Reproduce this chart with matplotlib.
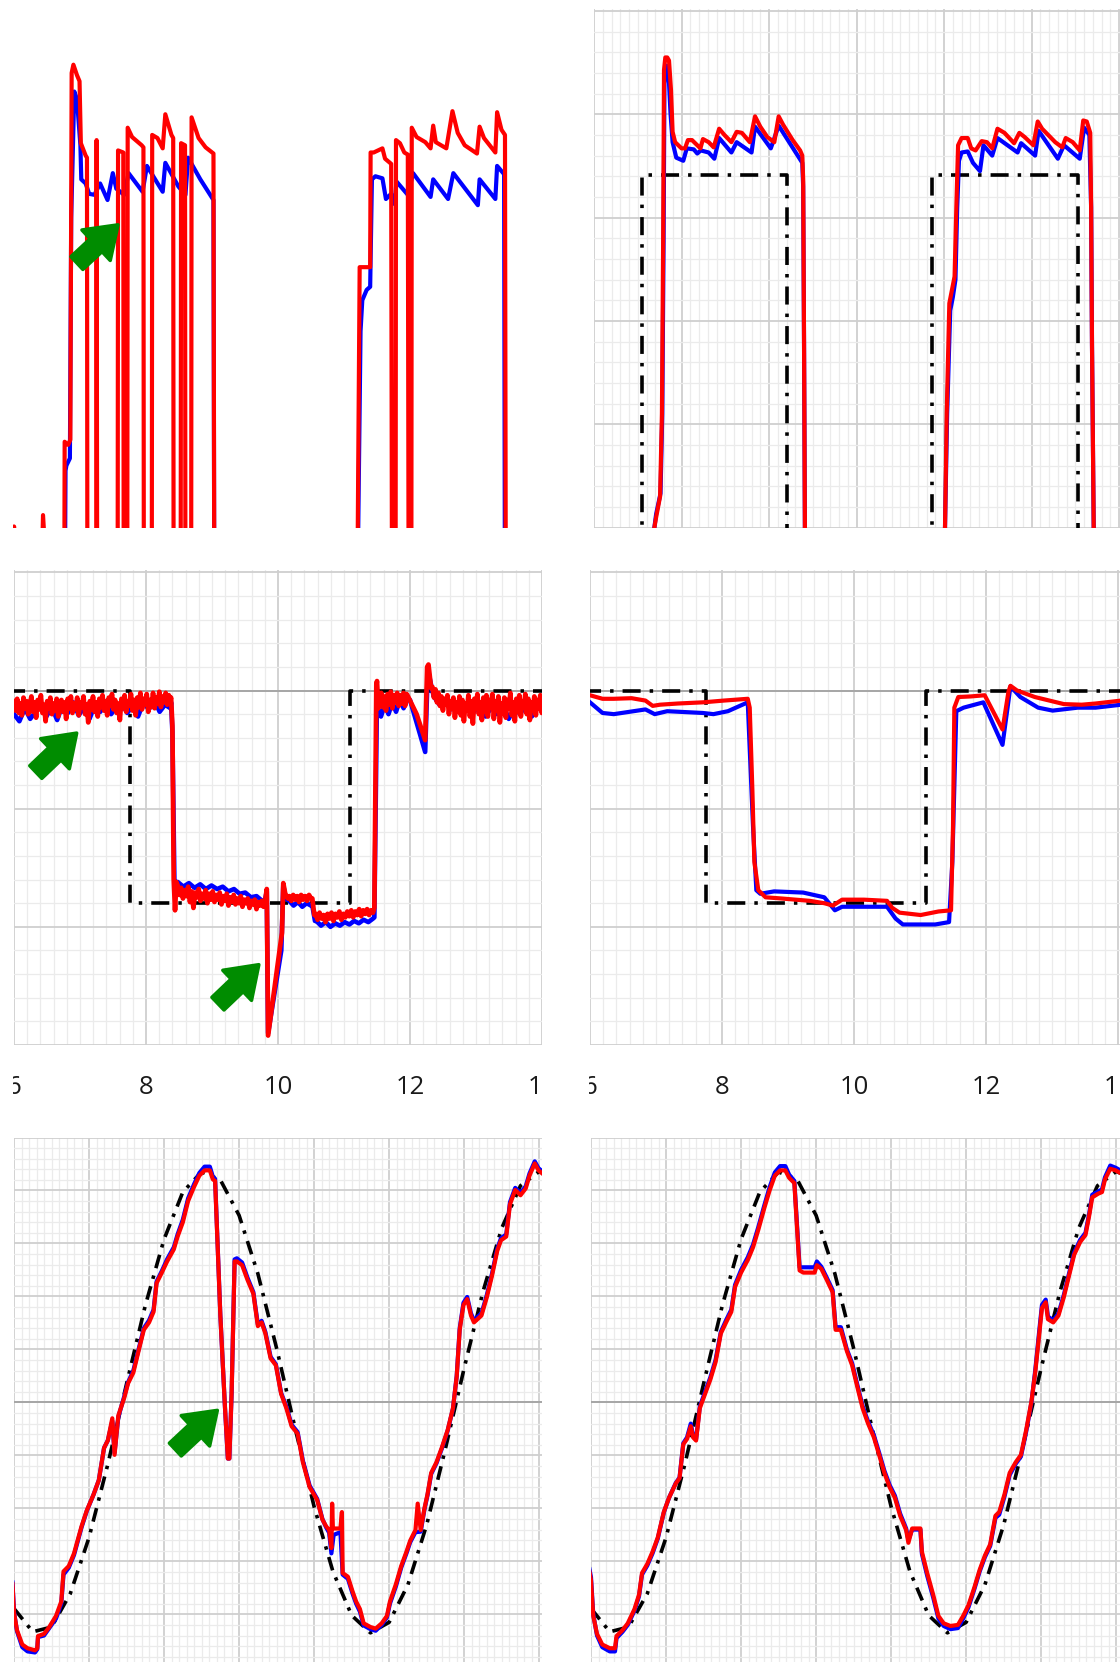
import numpy as np
import matplotlib
matplotlib.use("Agg")
import matplotlib.pyplot as plt
from matplotlib.patches import FancyArrowPatch
from matplotlib.ticker import MultipleLocator
from matplotlib import transforms
from matplotlib.transforms import Bbox, TransformedBbox

# ---------------- data ----------------
LOW = -1.0  # off-scale low (clipped by the panel)

# top row (pulse tests)
A_red = [(0.00,LOW),(0.012,0.01),(0.03,LOW),(0.31,LOW),(0.343,0.12),(0.42,LOW),
         (0.585,LOW),(0.59,0.83),(0.63,0.80),(0.655,0.85),(0.67,4.40),(0.69,4.48),(0.73,4.38),(0.76,4.32),
         (0.775,3.72),(0.83,3.60),(0.845,3.58),(0.85,LOW),
         (0.95,LOW),(0.955,3.75),(0.962,LOW),
         (1.195,LOW),(1.20,3.65),(1.26,3.63),(1.265,LOW),
         (1.305,LOW),(1.31,3.87),(1.36,3.78),(1.47,3.70),(1.49,3.68),(1.495,LOW),
         (1.585,LOW),(1.59,3.80),(1.65,3.77),(1.71,3.67),(1.74,4.00),(1.81,3.80),(1.83,3.77),(1.835,LOW),
         (1.915,LOW),(1.92,3.72),(1.965,3.70),(1.97,LOW),
         (2.035,LOW),(2.04,3.97),(2.12,3.77),(2.20,3.68),(2.29,3.62),(2.30,LOW),
         (3.93,LOW),(3.96,2.52),(4.08,2.52),(4.085,3.63),(4.12,3.63),(4.22,3.67),(4.25,3.57),(4.32,3.52),(4.33,LOW),
         (4.37,LOW),(4.375,3.75),(4.42,3.72),(4.47,3.63),(4.51,3.61),(4.52,LOW),
         (4.55,LOW),(4.555,3.87),(4.61,3.78),(4.71,3.73),(4.77,3.67),(4.80,3.89),(4.83,3.73),(4.95,3.67),
         (5.02,4.03),(5.08,3.82),(5.16,3.70),(5.30,3.62),(5.33,3.88),(5.38,3.77),(5.51,3.63),(5.53,4.02),
         (5.58,3.85),(5.62,3.80),(5.63,LOW),(6.1,LOW)]
A_blue = [(0.0,LOW),(0.59,LOW),(0.60,0.55),(0.61,0.60),(0.65,0.67),(0.665,3.0),(0.70,4.22),(0.73,4.15),
          (0.77,3.70),(0.78,3.37),(0.83,3.33),(0.87,3.23),(0.93,3.22),(0.995,3.33),(1.08,3.17),(1.14,3.43),
          (1.18,3.28),(1.27,3.22),(1.32,3.43),(1.48,3.25),(1.53,3.50),(1.71,3.25),(1.74,3.53),(1.89,3.30),
          (1.97,3.22),(2.00,3.58),(2.14,3.37),(2.29,3.17),(2.30,LOW),
          (3.93,LOW),(3.97,1.9),(3.99,2.20),(4.04,2.30),(4.08,2.33),(4.10,3.37),(4.14,3.40),(4.22,3.38),
          (4.26,3.18),(4.32,3.23),(4.36,3.13),(4.38,3.35),(4.51,3.22),(4.57,3.43),(4.77,3.20),(4.80,3.37),
          (4.97,3.18),(5.03,3.43),(5.31,3.12),(5.33,3.37),(5.51,3.18),(5.53,3.50),(5.61,3.42),(5.62,LOW),(6.1,LOW)]
A_arrow = [((0.73, 2.56), (1.20, 2.93))]

B_ref1 = [(0.55,LOW),(0.55,3.41),(2.20,3.41),(2.20,LOW)]
B_ref2 = [(3.86,LOW),(3.86,3.41),(5.53,3.41),(5.53,LOW)]
B_red = [(0.0,LOW),(0.67,LOW),(0.69,0.0),(0.71,0.10),(0.755,0.30),(0.776,1.10),(0.79,2.77),(0.80,4.43),
         (0.815,4.55),(0.837,4.55),(0.857,4.52),(0.88,4.23),(0.898,3.83),(0.927,3.73),(1.00,3.67),(1.04,3.67),
         (1.073,3.75),(1.12,3.75),(1.18,3.70),(1.216,3.67),(1.245,3.76),(1.31,3.73),(1.367,3.68),(1.43,3.86),
         (1.49,3.80),(1.57,3.73),(1.63,3.83),(1.69,3.82),(1.78,3.73),(1.84,3.98),(1.90,3.88),(1.98,3.78),
         (2.06,3.73),(2.11,3.98),(2.16,3.90),(2.27,3.75),(2.355,3.65),(2.38,3.60),(2.39,3.37),(2.40,1.77),
         (2.41,-0.03),(2.42,LOW),
         (3.98,LOW),(4.01,-0.03),(4.03,1.10),(4.06,2.17),(4.09,2.30),(4.12,2.43),(4.14,3.10),(4.16,3.70),
         (4.20,3.77),(4.27,3.77),(4.31,3.67),(4.36,3.65),(4.43,3.74),(4.49,3.73),(4.55,3.67),(4.61,3.86),
         (4.69,3.82),(4.80,3.72),(4.86,3.82),(4.92,3.78),(5.02,3.70),(5.07,3.93),(5.12,3.86),(5.27,3.73),
         (5.35,3.68),(5.39,3.77),(5.47,3.73),(5.55,3.65),(5.59,3.94),(5.63,3.93),(5.67,3.82),(5.68,3.10),
         (5.69,1.77),(5.71,-0.03),(5.72,LOW),(6.1,LOW)]
B_blue = [(0.0,LOW),(0.67,LOW),(0.69,0.0),(0.71,0.13),(0.76,0.33),(0.78,1.10),(0.795,2.77),(0.805,4.30),
          (0.83,4.47),(0.85,4.42),(0.875,4.00),(0.898,3.73),(0.94,3.58),(1.02,3.55),(1.06,3.67),(1.14,3.66),
          (1.18,3.62),(1.22,3.65),(1.31,3.63),(1.375,3.57),(1.43,3.77),(1.57,3.63),(1.63,3.73),(1.80,3.63),
          (1.84,3.88),(2.02,3.67),(2.11,3.89),(2.35,3.57),(2.38,3.53),(2.39,3.30),(2.40,1.77),(2.41,-0.03),(2.42,LOW),
          (3.98,LOW),(4.01,-0.03),(4.035,1.10),(4.07,2.10),(4.10,2.23),(4.13,2.40),(4.15,3.10),(4.17,3.55),
          (4.20,3.63),(4.27,3.64),(4.33,3.53),(4.41,3.45),(4.45,3.70),(4.55,3.60),(4.61,3.77),(4.84,3.63),
          (4.88,3.72),(5.04,3.60),(5.08,3.84),(5.30,3.57),(5.37,3.70),(5.55,3.57),(5.60,3.87),(5.66,3.80),
          (5.68,3.10),(5.69,1.77),(5.71,-0.03),(5.72,LOW),(6.1,LOW)]

# middle row (step tests), time axis 6..14
x_ticks_mid = [6, 8, 10, 12, 14]
STEP_REF = [(5.9,0.0),(7.76,0.0),(7.76,-1.80),(11.09,-1.80),(11.09,0.0),(14.2,0.0)]

C_red_noise1 = [-0.09,-0.17,-0.07,-0.19,-0.11,-0.21,-0.06,-0.15,-0.09,-0.20,-0.12,-0.05,-0.18,-0.10,-0.23,
                -0.08,-0.16,-0.04,-0.19,-0.12,-0.26,-0.09,-0.15,-0.06,-0.20,-0.11,-0.17,-0.07,-0.22,-0.13,
                -0.08,-0.18,-0.10,-0.24,-0.07,-0.15,-0.05,-0.19,-0.11,-0.16,-0.06,-0.21,-0.10,-0.14,-0.05,
                -0.20,-0.12,-0.27,-0.09,-0.16,-0.05,-0.18,-0.10,-0.22,-0.07,-0.14,-0.04,-0.17,-0.09,-0.21,
                -0.06,-0.13,-0.03,-0.16,-0.08,-0.19,-0.11,-0.25,-0.07,-0.15,-0.04,-0.18,-0.09,-0.13,-0.03,
                -0.17,-0.08,-0.21,-0.06,-0.14,-0.02,-0.16,-0.07,-0.12,-0.03,-0.18,-0.08,-0.14,-0.02,-0.15,
                -0.06,-0.11,-0.01,-0.14,-0.05,-0.10,-0.02,-0.12,-0.04,-0.08]
C_red_knot1 = [(8.38,-0.06),(8.40,-0.30),(8.42,-1.60),(8.44,-1.86),(8.46,-1.62)]
C_red_noise2 = [-1.65,-1.73,-1.67,-1.76,-1.69,-1.74,-1.66,-1.79,-1.70,-1.84,-1.71,-1.75,-1.68,-1.78,-1.72,
                -1.76,-1.69,-1.80,-1.72,-1.77,-1.70,-1.79,-1.73,-1.77,-1.71,-1.81,-1.74,-1.78,-1.72,-1.82,
                -1.75,-1.79,-1.73,-1.81,-1.76,-1.80,-1.74,-1.83,-1.77,-1.80,-1.76,-1.84,-1.78,-1.81,-1.77,
                -1.85,-1.79,-1.82,-1.78,-1.83]
C_red_knot2 = [(9.80,-1.80),(9.83,-1.68),(9.85,-2.92),(10.06,-2.05),(10.08,-1.63),(10.11,-1.72),(10.15,-1.76)]
C_red_noise3 = [-1.74,-1.78,-1.73,-1.77,-1.74,-1.79,-1.73,-1.77,-1.74,-1.78,-1.73,-1.76]
C_red_knot3 = [(10.52,-1.76),(10.55,-1.90)]
C_red_noise4 = [-1.89,-1.94,-1.88,-1.93,-1.90,-1.96,-1.89,-1.93,-1.88,-1.95,-1.89,-1.92,-1.87,-1.94,-1.89,
                -1.92,-1.87,-1.91,-1.86,-1.92,-1.87,-1.90,-1.85,-1.91,-1.86,-1.89,-1.85,-1.90,-1.86,-1.88]
C_red_knot4 = [(11.46,-1.84),(11.49,0.05),(11.50,0.08),(11.52,-0.15)]
C_red_noise5 = [-0.10,-0.02,-0.14,-0.05,-0.17,-0.03,-0.12,-0.01,-0.15,-0.04,-0.10,-0.02,-0.13,-0.04,
                -0.11,-0.02,-0.13,-0.03]
C_red_knot5 = [(11.97,-0.05),(12.10,-0.20),(12.23,-0.42),(12.26,0.20),(12.28,0.22),(12.32,0.02)]
C_red_noise6 = [0.03,-0.06,0.01,-0.10,-0.02,-0.13,-0.05,-0.17,-0.07,-0.12,-0.04,-0.20,-0.09,-0.15,-0.06,
                -0.23,-0.10,-0.18,-0.05,-0.21,-0.08,-0.26,-0.11,-0.17,-0.04,-0.22,-0.09,-0.28,-0.07,-0.15,
                -0.03,-0.20,-0.10,-0.25,-0.06,-0.18,-0.04,-0.22,-0.08,-0.14,-0.03,-0.24,-0.09,-0.17,-0.05,
                -0.27,-0.11,-0.19,-0.06,-0.23,-0.08,-0.15,-0.02,-0.21,-0.10,-0.26,-0.07,-0.18,-0.04,-0.22,
                -0.09,-0.14,-0.03,-0.20,-0.07,-0.25,-0.10,-0.17,-0.05,-0.21,-0.08,-0.15,-0.04,-0.19,-0.09]

C_blue_noise1 = [-0.20,-0.26,-0.15,-0.24,-0.18,-0.12,-0.22,-0.14,-0.25,-0.12,-0.19,-0.10,-0.21,-0.14,
                 -0.24,-0.12,-0.18,-0.10,-0.20,-0.14,-0.11,-0.19,-0.13,-0.22,-0.10,-0.16,-0.08,-0.18,
                 -0.12,-0.15]
C_blue_knot1 = [(8.38,-0.10),(8.40,-0.35),(8.43,-1.60),(8.46,-1.64)]
C_blue_noise2 = [-1.62,-1.66,-1.63,-1.67,-1.64,-1.68,-1.65,-1.68,-1.66,-1.70,-1.68,-1.72,-1.71,-1.75,
                 -1.74,-1.78]
C_blue_knot2 = [(9.80,-1.78),(9.83,-1.70),(9.85,-2.90),(10.05,-2.20),(10.08,-1.65),(10.12,-1.76)]
C_blue_noise3 = [-1.78,-1.82,-1.79,-1.83,-1.80,-1.82]
C_blue_knot3 = [(10.52,-1.82),(10.56,-1.95)]
C_blue_noise4 = [-1.95,-1.99,-1.96,-2.00,-1.97,-1.99,-1.96,-1.98,-1.95,-1.97,-1.94,-1.96,-1.93]
C_blue_knot4 = [(11.46,-1.92),(11.50,-0.05),(11.53,-0.20)]
C_blue_noise5 = [-0.22,-0.12,-0.20,-0.10,-0.18,-0.08,-0.15,-0.06]
C_blue_knot5 = [(12.00,-0.08),(12.23,-0.52),(12.27,0.18),(12.33,0.02)]
C_blue_noise6 = [-0.05,-0.12,-0.08,-0.16,-0.10,-0.20,-0.12,-0.18,-0.10,-0.22,-0.14,-0.20,-0.12,-0.24,
                 -0.15,-0.20,-0.11,-0.22,-0.13,-0.19]
C_arrows = [((6.33,-0.69),(6.95,-0.36)), ((9.09,-2.65),(9.71,-2.32))]

D_red = [(6.0,-0.04),(6.19,-0.07),(6.36,-0.07),(6.63,-0.065),(6.84,-0.085),(6.95,-0.13),(7.06,-0.12),
         (7.33,-0.11),(7.71,-0.10),(8.03,-0.085),(8.39,-0.07),(8.42,-0.145),(8.46,-0.84),(8.49,-1.45),
         (8.55,-1.69),(8.66,-1.75),(8.90,-1.76),(9.33,-1.78),(9.55,-1.80),(9.68,-1.82),(9.82,-1.77),
         (10.15,-1.77),(10.50,-1.78),(10.58,-1.84),(10.69,-1.88),(11.01,-1.90),(11.28,-1.87),(11.47,-1.86),
         (11.50,-1.15),(11.52,-0.145),(11.58,-0.055),(11.77,-0.05),(11.98,-0.04),(12.25,-0.33),(12.34,-0.01),
         (12.37,0.04),(12.47,0.0),(12.74,-0.055),(12.96,-0.085),(13.18,-0.115),(13.45,-0.12),(13.66,-0.11),
         (14.05,-0.085)]
D_blue = [(6.0,-0.10),(6.19,-0.19),(6.36,-0.20),(6.84,-0.16),(6.98,-0.20),(7.17,-0.175),(7.71,-0.19),
          (7.87,-0.20),(8.09,-0.175),(8.39,-0.10),(8.47,-1.15),(8.52,-1.69),(8.58,-1.72),(8.79,-1.70),
          (9.23,-1.71),(9.55,-1.75),(9.71,-1.86),(9.82,-1.83),(10.25,-1.83),(10.50,-1.83),(10.63,-1.93),
          (10.74,-1.98),(11.23,-1.98),(11.44,-1.96),(11.49,-1.45),(11.55,-0.175),(11.66,-0.145),(11.96,-0.10),
          (12.25,-0.46),(12.37,0.035),(12.52,-0.055),(12.79,-0.145),(13.01,-0.17),(13.39,-0.145),(13.66,-0.145),
          (14.05,-0.12)]

# bottom row (sine tracking)
SINE_REF = [(0.0,-3.89),(0.25,-4.33),(0.5,-4.24),(0.75,-3.61),(1.0,-2.55),(1.25,-1.17),(1.5,0.35),
            (1.75,1.83),(2.0,3.08),(2.25,3.97),(2.5,4.35),(2.75,4.20),(3.0,3.53),(3.25,2.43),(3.5,1.02),
            (3.75,-0.51),(4.0,-1.97),(4.25,-3.19),(4.5,-4.02),(4.75,-4.35),(5.0,-4.15),(5.25,-3.44),
            (5.5,-2.31),(5.75,-0.87),(6.0,0.65),(6.25,2.09),(6.5,3.29),(6.75,4.09),(7.0,4.36),(7.1,4.30)]

E_red = [(-0.02,-3.43),(0.0,-3.97),(0.04,-4.30),(0.11,-4.57),(0.18,-4.64),(0.28,-4.68),(0.31,-4.64),
         (0.32,-4.41),(0.40,-4.37),(0.47,-4.24),(0.56,-4.03),(0.63,-3.76),(0.66,-3.19),(0.73,-3.09),
         (0.80,-2.85),(0.90,-2.34),(0.97,-2.04),(1.06,-1.74),(1.13,-1.47),(1.20,-0.86),(1.25,-0.72),
         (1.31,-0.30),(1.34,-0.99),(1.39,-0.25),(1.47,0.09),(1.52,0.36),(1.59,0.56),(1.66,0.97),(1.73,1.37),
         (1.80,1.51),(1.86,1.71),(1.90,2.25),(1.97,2.45),(2.04,2.66),(2.13,2.89),(2.18,3.13),(2.25,3.40),
         (2.32,3.80),(2.40,4.07),(2.47,4.28),(2.54,4.38),(2.61,4.38),(2.65,4.21),(2.68,4.18),(2.75,1.64),
         (2.81,-0.05),(2.85,-1.06),(2.87,-1.06),(2.90,0.16),(2.94,2.66),(2.97,2.66),(3.04,2.59),(3.11,2.32),
         (3.19,2.05),(3.25,1.44),(3.30,1.51),(3.35,1.30),(3.42,0.83),(3.49,0.70),(3.56,0.16),(3.63,-0.11),
         (3.70,-0.45),(3.78,-0.59),(3.85,-1.13),(3.94,-1.60),(4.04,-1.84),(4.11,-2.21),(4.16,-2.34),
         (4.20,-2.41),(4.23,-2.75),(4.24,-1.91),(4.25,-2.38),(4.35,-2.38),(4.37,-2.07),(4.38,-3.22),
         (4.45,-3.29),(4.51,-3.56),(4.56,-3.76),(4.61,-3.90),(4.66,-4.17),(4.75,-4.24),(4.82,-4.27),
         (4.90,-4.17),(4.97,-4.03),(5.01,-3.76),(5.09,-3.43),(5.16,-3.09),(5.23,-2.82),(5.28,-2.61),
         (5.35,-2.41),(5.38,-1.91),(5.42,-2.41),(5.47,-2.00),(5.51,-1.74),(5.56,-1.33),(5.63,-1.13),
         (5.70,-0.86),(5.78,-0.52),(5.85,-0.11),(5.90,0.49),(5.94,1.37),(5.99,1.84),(6.04,1.95),(6.09,1.64),
         (6.13,1.51),(6.23,1.64),(6.30,1.98),(6.37,2.39),(6.44,2.86),(6.49,3.06),(6.56,3.13),(6.61,3.74),
         (6.68,4.01),(6.75,3.91),(6.82,4.04),(6.87,4.28),(6.94,4.51),(6.99,4.38),(7.05,4.31)]
E_blue = [(-0.02,-3.40),(0.0,-3.95),(0.04,-4.32),(0.11,-4.62),(0.18,-4.70),(0.28,-4.72),(0.31,-4.66),
          (0.32,-4.43),(0.40,-4.40),(0.47,-4.26),(0.56,-4.08),(0.63,-3.80),(0.66,-3.25),(0.73,-3.12),
          (0.80,-2.88),(0.90,-2.36),(0.97,-2.05),(1.06,-1.74),(1.13,-1.47),(1.20,-0.86),(1.25,-0.72),
          (1.31,-0.35),(1.34,-0.95),(1.39,-0.28),(1.47,0.12),(1.52,0.38),(1.59,0.60),(1.66,1.00),(1.73,1.40),
          (1.80,1.55),(1.86,1.75),(1.90,2.28),(1.97,2.48),(2.04,2.70),(2.13,2.93),(2.18,3.17),(2.25,3.45),
          (2.32,3.85),(2.40,4.12),(2.47,4.33),(2.54,4.45),(2.61,4.45),(2.65,4.26),(2.68,4.22),(2.75,1.64),
          (2.81,-0.05),(2.85,-1.06),(2.87,-1.06),(2.90,0.16),(2.94,2.70),(2.97,2.72),(3.04,2.64),(3.11,2.36),
          (3.19,2.08),(3.25,1.47),(3.30,1.54),(3.35,1.33),(3.42,0.86),(3.49,0.72),(3.56,0.18),(3.63,-0.08),
          (3.70,-0.42),(3.78,-0.56),(3.85,-1.10),(3.94,-1.57),(4.04,-1.82),(4.11,-2.20),(4.16,-2.36),
          (4.20,-2.46),(4.23,-2.85),(4.26,-2.50),(4.35,-2.45),(4.38,-3.25),(4.45,-3.33),(4.51,-3.60),
          (4.56,-3.80),(4.61,-3.95),(4.66,-4.21),(4.75,-4.28),(4.82,-4.31),(4.90,-4.20),(4.97,-4.06),
          (5.01,-3.80),(5.09,-3.47),(5.16,-3.12),(5.23,-2.85),(5.28,-2.64),(5.35,-2.45),(5.42,-2.44),
          (5.47,-2.02),(5.51,-1.76),(5.56,-1.35),(5.63,-1.15),(5.70,-0.88),(5.78,-0.53),(5.85,-0.12),
          (5.90,0.50),(5.94,1.40),(5.99,1.88),(6.04,1.99),(6.09,1.68),(6.13,1.55),(6.23,1.68),(6.30,2.02),
          (6.37,2.43),(6.44,2.90),(6.49,3.10),(6.56,3.17),(6.61,3.78),(6.68,4.05),(6.75,3.95),(6.82,4.08),
          (6.87,4.32),(6.94,4.55),(6.99,4.42),(7.05,4.35)]
E_arrow = [((2.15,-0.89),(2.71,-0.15))]

F_red = [(-0.02,-3.20),(0.0,-3.36),(0.03,-4.03),(0.08,-4.37),(0.15,-4.57),(0.25,-4.64),(0.32,-4.64),
         (0.34,-4.41),(0.42,-4.30),(0.49,-4.17),(0.58,-3.90),(0.64,-3.63),(0.68,-3.22),(0.75,-3.05),
         (0.82,-2.82),(0.89,-2.55),(0.97,-2.07),(1.04,-1.80),(1.13,-1.53),(1.18,-1.43),(1.23,-0.79),
         (1.28,-0.69),(1.33,-0.45),(1.36,-0.66),(1.40,-0.72),(1.45,-0.11),(1.52,0.16),(1.59,0.43),
         (1.66,0.76),(1.73,1.30),(1.80,1.51),(1.87,1.71),(1.92,2.18),(2.00,2.45),(2.09,2.69),(2.16,2.93),
         (2.23,3.26),(2.31,3.67),(2.38,4.00),(2.45,4.28),(2.52,4.38),(2.59,4.38),(2.64,4.24),(2.71,4.14),
         (2.78,2.49),(2.83,2.45),(2.98,2.45),(3.01,2.59),(3.07,2.52),(3.14,2.32),(3.22,2.08),(3.26,1.37),
         (3.33,1.37),(3.41,0.97),(3.48,0.70),(3.55,0.29),(3.62,-0.11),(3.69,-0.39),(3.77,-0.66),(3.84,-0.99),
         (3.91,-1.33),(3.98,-1.60),(4.05,-1.80),(4.12,-2.14),(4.20,-2.41),(4.23,-2.65),(4.28,-2.38),
         (4.39,-2.38),(4.41,-2.82),(4.48,-3.22),(4.56,-3.63),(4.63,-4.03),(4.70,-4.17),(4.79,-4.22),
         (4.89,-4.20),(4.96,-4.03),(5.03,-3.83),(5.11,-3.49),(5.18,-3.16),(5.25,-2.89),(5.32,-2.68),
         (5.39,-2.14),(5.44,-2.07),(5.51,-1.74),(5.58,-1.33),(5.66,-1.13),(5.73,-0.99),(5.80,-0.52),
         (5.87,0.02),(5.92,0.56),(5.97,1.24),(6.01,1.78),(6.06,1.89),(6.09,1.57),(6.16,1.51),(6.23,1.64),
         (6.30,1.98),(6.37,2.39),(6.44,2.79),(6.52,3.03),(6.59,3.16),(6.64,3.53),(6.68,3.87),(6.76,3.94),
         (6.81,3.97),(6.85,4.21),(6.92,4.41),(6.99,4.38),(7.08,4.31)]
F_blue = [(-0.02,-3.15),(0.0,-3.30),(0.03,-4.00),(0.08,-4.40),(0.15,-4.62),(0.25,-4.70),(0.32,-4.70),
          (0.34,-4.45),(0.42,-4.33),(0.49,-4.20),(0.58,-3.93),(0.64,-3.66),(0.68,-3.25),(0.75,-3.08),
          (0.82,-2.85),(0.89,-2.57),(0.97,-2.08),(1.04,-1.80),(1.13,-1.52),(1.18,-1.42),(1.23,-0.77),
          (1.28,-0.66),(1.33,-0.40),(1.36,-0.62),(1.40,-0.70),(1.45,-0.08),(1.52,0.20),(1.59,0.47),
          (1.66,0.80),(1.73,1.33),(1.80,1.55),(1.87,1.75),(1.92,2.22),(2.00,2.50),(2.09,2.74),(2.16,2.98),
          (2.23,3.31),(2.31,3.72),(2.38,4.06),(2.45,4.34),(2.52,4.46),(2.59,4.46),(2.64,4.30),(2.71,4.18),
          (2.78,2.55),(2.83,2.55),(2.98,2.55),(3.01,2.66),(3.07,2.56),(3.14,2.36),(3.22,2.12),(3.26,1.42),
          (3.33,1.42),(3.41,1.00),(3.48,0.74),(3.55,0.33),(3.62,-0.07),(3.69,-0.35),(3.77,-0.62),(3.84,-0.95),
          (3.91,-1.29),(3.98,-1.56),(4.05,-1.76),(4.12,-2.10),(4.20,-2.38),(4.23,-2.60),(4.28,-2.40),
          (4.39,-2.40),(4.41,-2.86),(4.48,-3.27),(4.56,-3.68),(4.63,-4.08),(4.70,-4.22),(4.79,-4.28),
          (4.89,-4.26),(4.96,-4.08),(5.03,-3.87),(5.11,-3.52),(5.18,-3.19),(5.25,-2.92),(5.32,-2.71),
          (5.39,-2.18),(5.44,-2.12),(5.51,-1.78),(5.58,-1.37),(5.66,-1.16),(5.73,-1.02),(5.80,-0.55),
          (5.87,0.00),(5.92,0.60),(5.97,1.30),(6.01,1.84),(6.06,1.94),(6.09,1.62),(6.16,1.55),(6.23,1.68),
          (6.30,2.02),(6.37,2.43),(6.44,2.83),(6.52,3.07),(6.59,3.20),(6.64,3.57),(6.68,3.92),(6.76,3.98),
          (6.81,4.02),(6.85,4.25),(6.92,4.47),(6.99,4.43),(7.08,4.36)]

# ---------------- styling ----------------
W, H, DPI = 1120, 1662, 100
plt.rcParams['lines.scale_dashes'] = False
plt.rcParams['font.family'] = ['Open Sans', 'DejaVu Sans']

RED, BLUE, BLACK, GREEN = '#ff0000', '#0000ff', '#000000', '#008c00'
LW = 3.0
REF_DASH_TOP = (0, (13, 6.5, 2.5, 6.5))
REF_DASH_BOT = (0, (10, 5.5, 2.5, 5.5))

fig = plt.figure(figsize=(W / DPI, H / DPI), dpi=DPI)
fig.patch.set_facecolor('white')


def add_ax(x0, y0, x1, y1):
    """axes from a pixel box (top-left origin)"""
    return fig.add_axes([x0 / W, 1 - y1 / H, (x1 - x0) / W, (y1 - y0) / H])


def bare(ax):
    ax.set_xticks([]); ax.set_yticks([])
    for s in ax.spines.values():
        s.set_visible(False)
    ax.patch.set_alpha(0)


def gridded(ax, xmaj, xmin, ymaj, ymin, zero=False):
    ax.xaxis.set_major_locator(MultipleLocator(xmaj))
    ax.xaxis.set_minor_locator(MultipleLocator(xmin))
    ax.yaxis.set_major_locator(MultipleLocator(ymaj))
    ax.yaxis.set_minor_locator(MultipleLocator(ymin))
    ax.grid(which='minor', color='#ebebeb', lw=0.9)
    ax.grid(which='major', color='#cfcfcf', lw=1.3)
    ax.set_axisbelow(True)
    ax.tick_params(which='both', length=0, labelbottom=False, labelleft=False)
    for s in ax.spines.values():
        s.set_visible(False)
    if zero:
        ax.axhline(0, color='#a6a6a6', lw=1.4, zorder=0.8)


def xy(pairs):
    a = np.array(pairs, dtype=float)
    return a[:, 0], a[:, 1]


def build(parts):
    xs, ys = [], []
    for p in parts:
        if p[0] == 'pts':
            for x, y in p[1]:
                xs.append(x); ys.append(y)
        else:
            _, x0, x1, vals = p
            xs.extend(np.linspace(x0, x1, len(vals)))
            ys.extend(vals)
    return np.array(xs), np.array(ys)


def arrows(ax, lst):
    for tail, tip in lst:
        a = FancyArrowPatch(tail, tip,
                            arrowstyle='simple,head_length=0.72,head_width=1.0,tail_width=0.42',
                            mutation_scale=30, facecolor=GREEN, edgecolor=GREEN, lw=2.5,
                            joinstyle='round', capstyle='round', shrinkA=0, shrinkB=0, zorder=8)
        ax.add_patch(a)


def draw(ax, ref_list, blue, red, dash, lw_red=LW, lw_blue=LW):
    for r in ref_list:
        ax.plot(*r, color=BLACK, lw=2.6, ls=dash, zorder=2, solid_capstyle='butt',
                dash_capstyle='butt')
    ax.plot(*blue, color=BLUE, lw=lw_blue, zorder=3, solid_joinstyle='round')
    ax.plot(*red, color=RED, lw=lw_red, zorder=4, solid_joinstyle='round')


# ---------- top-left (no grid) ----------
axA = add_ax(13, 8.9, 540, 527.5)
bare(axA)
axA.set_xlim(0, 6.02); axA.set_ylim(0, 5.02)
draw(axA, [], xy(A_blue), xy(A_red), REF_DASH_TOP)
arrows(axA, A_arrow)

# ---------- top-right ----------
axB = add_ax(594, 8.9, 1120, 527.5)
gridded(axB, 1, 0.1, 1, 0.2)
axB.set_xlim(0, 6.01); axB.set_ylim(0, 5.02)
draw(axB, [xy(B_ref1), xy(B_ref2)], xy(B_blue), xy(B_red), REF_DASH_TOP)

# ---------- middle-left ----------
axC = add_ax(14, 570, 542, 1045)
gridded(axC, 2, 0.2, 1, 0.2, zero=True)
axC.set_xlim(6, 14); axC.set_ylim(-3, 1.02)
C_red = build([('noise', 6.0, 8.37, C_red_noise1), ('pts', C_red_knot1),
               ('noise', 8.48, 9.78, C_red_noise2), ('pts', C_red_knot2),
               ('noise', 10.17, 10.50, C_red_noise3), ('pts', C_red_knot3),
               ('noise', 10.57, 11.44, C_red_noise4), ('pts', C_red_knot4),
               ('noise', 11.54, 11.95, C_red_noise5), ('pts', C_red_knot5),
               ('noise', 12.34, 14.02, C_red_noise6)])
C_blue = build([('noise', 6.0, 8.37, C_blue_noise1), ('pts', C_blue_knot1),
                ('noise', 8.48, 9.76, C_blue_noise2), ('pts', C_blue_knot2),
                ('noise', 10.17, 10.50, C_blue_noise3), ('pts', C_blue_knot3),
                ('noise', 10.58, 11.44, C_blue_noise4), ('pts', C_blue_knot4),
                ('noise', 11.56, 11.96, C_blue_noise5), ('pts', C_blue_knot5),
                ('noise', 12.36, 14.02, C_blue_noise6)])
draw(axC, [xy(STEP_REF)], C_blue, C_red, REF_DASH_TOP, lw_red=3.4, lw_blue=3.3)
arrows(axC, C_arrows)

# ---------- middle-right ----------
axD = add_ax(590, 570, 1120, 1045)
gridded(axD, 2, 0.2, 1, 0.2, zero=True)
axD.set_xlim(6, 14.03); axD.set_ylim(-3, 1.02)
draw(axD, [xy(STEP_REF)], xy(D_blue), xy(D_red), REF_DASH_TOP)

# tick labels of the middle row, cut at the panel edges like the reference
for ax, (cx0, cx1) in ((axC, (12.5, 541)), (axD, (589, 1116))):
    blend = transforms.blended_transform_factory(ax.transData, fig.transFigure)
    clip = TransformedBbox(Bbox.from_extents(cx0 / W, 0, cx1 / W, 1), fig.transFigure)
    for t in x_ticks_mid:
        txt = fig.text(t, 1 - 1094 / H, str(t), transform=blend, ha='center', va='baseline',
                       fontsize=18.5, color='#1a1a1a')
        txt.set_clip_box(clip)
        txt.set_clip_on(True)

# ---------- bottom-left ----------
axE = add_ax(14, 1137.5, 541.5, 1662)
gridded(axE, 1, 0.1, 1, 0.2, zero=True)
axE.set_xlim(0, 7.03); axE.set_ylim(-4.9, 5.0)
draw(axE, [xy(SINE_REF)], xy(E_blue), xy(E_red), REF_DASH_BOT)
arrows(axE, E_arrow)

# ---------- bottom-right ----------
axF = add_ax(591, 1137.5, 1120, 1662)
gridded(axF, 1, 0.1, 1, 0.2, zero=True)
axF.set_xlim(0, 7.05); axF.set_ylim(-4.9, 5.0)
draw(axF, [xy(SINE_REF)], xy(F_blue), xy(F_red), REF_DASH_BOT)

fig.savefig('out.png', dpi=DPI, facecolor='white')
